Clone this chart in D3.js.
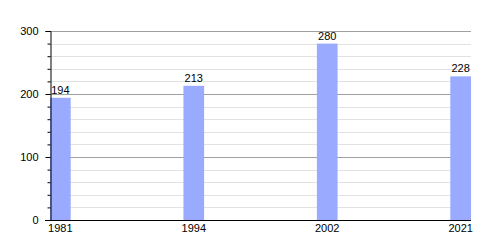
<!DOCTYPE html>
<html>
<head>
<meta charset="utf-8">
<script src="https://cdn.jsdelivr.net/npm/d3@7"></script>
<style>
  body { margin: 0; background: #fff; }
  text { font-family: "Liberation Sans", Arial, sans-serif; font-size: 11px; fill: #000; }
</style>
</head>
<body>
<svg id="chart" width="500" height="250"></svg>
<script>
// population by census year
var years = ['1981', '1994', '2002', '2021'];
var values = [194, 213, 280, 228];
var majorTicks = [0, 100, 200, 300];
var minorTicks = d3.range(0, 301, 20);

var svg = d3.select('#chart');
var plotLeft = 50, plotRight = 471, plotTop = 31, plotBottom = 220;

var x = d3.scaleBand().domain(years).range([plotLeft, plotRight]).paddingInner(0.845).paddingOuter(0);
var y = d3.scaleLinear().domain([0, 300]).range([plotBottom, plotTop]);

// minor grid
svg.append('g').selectAll('line').data(minorTicks.filter(function(d){ return d % 100 != 0; }))
  .join('line')
  .attr('x1', plotLeft).attr('x2', plotRight)
  .attr('y1', function(d){ return Math.round(y(d)) + 0.5; })
  .attr('y2', function(d){ return Math.round(y(d)) + 0.5; })
  .attr('stroke', '#e2e2e2');

// major grid
svg.append('g').selectAll('line').data(majorTicks.filter(function(d){ return d > 0; }))
  .join('line')
  .attr('x1', plotLeft).attr('x2', plotRight)
  .attr('y1', function(d){ return Math.round(y(d)) + 0.5; })
  .attr('y2', function(d){ return Math.round(y(d)) + 0.5; })
  .attr('stroke', '#a0a0a0');

// bars
svg.append('g').selectAll('rect').data(values)
  .join('rect')
  .attr('x', function(d, i){ return x(years[i]); })
  .attr('width', x.bandwidth())
  .attr('y', function(d){ return y(d); })
  .attr('height', function(d){ return plotBottom - y(d); })
  .attr('fill', '#99aaff');

// value labels
svg.append('g').selectAll('text').data(values)
  .join('text')
  .attr('x', function(d, i){ return x(years[i]) + x.bandwidth() / 2; })
  .attr('y', function(d){ return y(d) - 4; })
  .attr('text-anchor', 'middle')
  .text(function(d){ return d; });

// y axis
var yAxis = d3.axisLeft(y).tickValues(majorTicks).tickSize(5).tickPadding(7);
var gy = svg.append('g').attr('transform', 'translate(' + (plotLeft + 0.5) + ',0)').call(yAxis);
gy.select('.domain').attr('stroke', '#000');
gy.selectAll('text').style('font-size', '11px').style('font-family', '"Liberation Sans", Arial, sans-serif');
var yMinor = d3.axisLeft(y).tickValues(minorTicks.filter(function(d){ return d % 100 != 0; })).tickSize(3).tickFormat('');
svg.append('g').attr('transform', 'translate(' + (plotLeft + 0.5) + ',0)').call(yMinor)
  .select('.domain').remove();

// x axis
var xAxis = d3.axisBottom(x).tickSize(0).tickPadding(4);
var gx = svg.append('g').attr('transform', 'translate(0,' + (plotBottom + 0.5) + ')').call(xAxis);
gx.select('.domain').attr('stroke', '#000').attr('d', 'M' + (plotLeft - 5) + ',0H' + plotRight);
gx.selectAll('text').style('font-size', '11px').style('font-family', '"Liberation Sans", Arial, sans-serif');
</script>
</body>
</html>
